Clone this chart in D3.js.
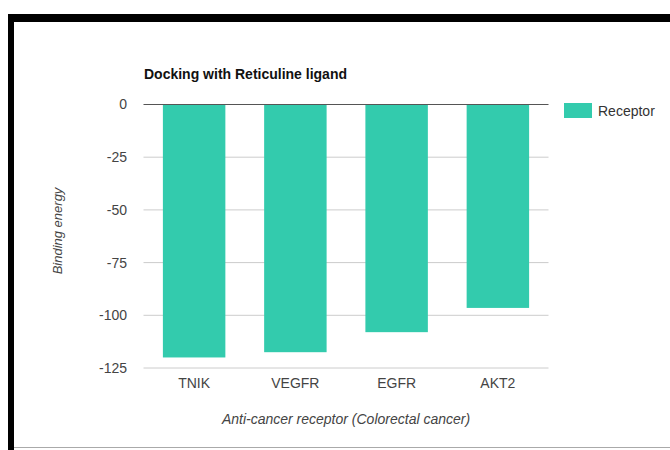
<!DOCTYPE html>
<html>
<head>
<meta charset="utf-8">
<script src="https://cdn.jsdelivr.net/npm/d3@7"></script>
<style>
  body { margin: 0; background: #fff; }
  svg { display: block; font-family: "Liberation Sans", Arial, sans-serif; }
</style>
</head>
<body>
<div id="chart"></div>
<script>
// Chart data
var receptors = ["TNIK", "VEGFR", "EGFR", "AKT2"];
var energies = [-120, -117.5, -108, -96.5];
var yTicks = [0, -25, -50, -75, -100, -125];
var seriesName = "Receptor";

var svgWidth = 670;
var svgHeight = 450;

var chartMargin = { top: 104.5, left: 143.5, right: 121.5, bottom: 82 };
var chartWidth = svgWidth - chartMargin.left - chartMargin.right;
var chartHeight = svgHeight - chartMargin.top - chartMargin.bottom;

var svg = d3.select("#chart")
    .append("svg")
    .attr("width", svgWidth)
    .attr("height", svgHeight);

// black frame around the screenshot
svg.append("rect").attr("x", 8).attr("y", 14).attr("width", 662).attr("height", 8).attr("fill", "#000");
svg.append("rect").attr("x", 8).attr("y", 14).attr("width", 6).attr("height", 436).attr("fill", "#000");
svg.append("line").attr("x1", 14).attr("x2", 670).attr("y1", 447.5).attr("y2", 447.5)
    .attr("stroke", "#aaa").attr("stroke-width", 1);

var chartGroup = svg.append("g")
    .attr("transform", `translate(${chartMargin.left}, ${chartMargin.top})`);

var xScale = d3.scaleBand()
    .domain(receptors)
    .range([0, chartWidth])
    .paddingInner(0.383)
    .paddingOuter(0.1915);

var yScale = d3.scaleLinear()
    .domain([0, -125])
    .range([0, chartHeight]);

// gridlines
chartGroup.selectAll(".grid")
    .data(yTicks.filter(d => d !== 0))
    .enter()
    .append("line")
    .attr("x1", 0)
    .attr("x2", chartWidth)
    .attr("y1", d => yScale(d))
    .attr("y2", d => yScale(d))
    .attr("stroke", "#cccccc")
    .attr("stroke-width", 1);

// y tick labels
chartGroup.selectAll(".ytick")
    .data(yTicks)
    .enter()
    .append("text")
    .attr("x", -16.5)
    .attr("y", d => yScale(d))
    .attr("dy", "0.35em")
    .attr("text-anchor", "end")
    .attr("font-size", 14)
    .attr("fill", "#444")
    .text(d => d);

// bars
chartGroup.selectAll(".bar")
    .data(receptors)
    .enter()
    .append("rect")
    .attr("x", d => xScale(d))
    .attr("y", 0)
    .attr("width", xScale.bandwidth())
    .attr("height", (d, i) => yScale(energies[i]))
    .attr("fill", "#33cbad");

// zero baseline
chartGroup.append("line")
    .attr("x1", 0)
    .attr("x2", chartWidth)
    .attr("y1", yScale(0))
    .attr("y2", yScale(0))
    .attr("stroke", "#555")
    .attr("stroke-width", 1.2);

// x tick labels
chartGroup.selectAll(".xtick")
    .data(receptors)
    .enter()
    .append("text")
    .attr("x", d => xScale(d) + xScale.bandwidth() / 2)
    .attr("y", chartHeight + 20)
    .attr("text-anchor", "middle")
    .attr("font-size", 14)
    .attr("fill", "#444")
    .text(d => d);

// title
svg.append("text")
    .attr("x", 144)
    .attr("y", 79)
    .attr("font-size", 14)
    .attr("font-weight", "bold")
    .attr("fill", "#111")
    .text("Docking with Reticuline ligand");

// axis titles
svg.append("text")
    .attr("x", 346)
    .attr("y", 424)
    .attr("text-anchor", "middle")
    .attr("font-size", 14)
    .attr("font-style", "italic")
    .attr("fill", "#444")
    .text("Anti-cancer receptor (Colorectal cancer)");

svg.append("text")
    .attr("transform", "translate(62, 231) rotate(-90)")
    .attr("text-anchor", "middle")
    .attr("font-size", 13)
    .attr("font-style", "italic")
    .attr("fill", "#444")
    .text("Binding energy");

// legend
svg.append("rect")
    .attr("x", 564)
    .attr("y", 103)
    .attr("width", 28)
    .attr("height", 15)
    .attr("fill", "#33cbad");

svg.append("text")
    .attr("x", 598)
    .attr("y", 116)
    .attr("font-size", 14)
    .attr("fill", "#333")
    .text(seriesName);
</script>
</body>
</html>
